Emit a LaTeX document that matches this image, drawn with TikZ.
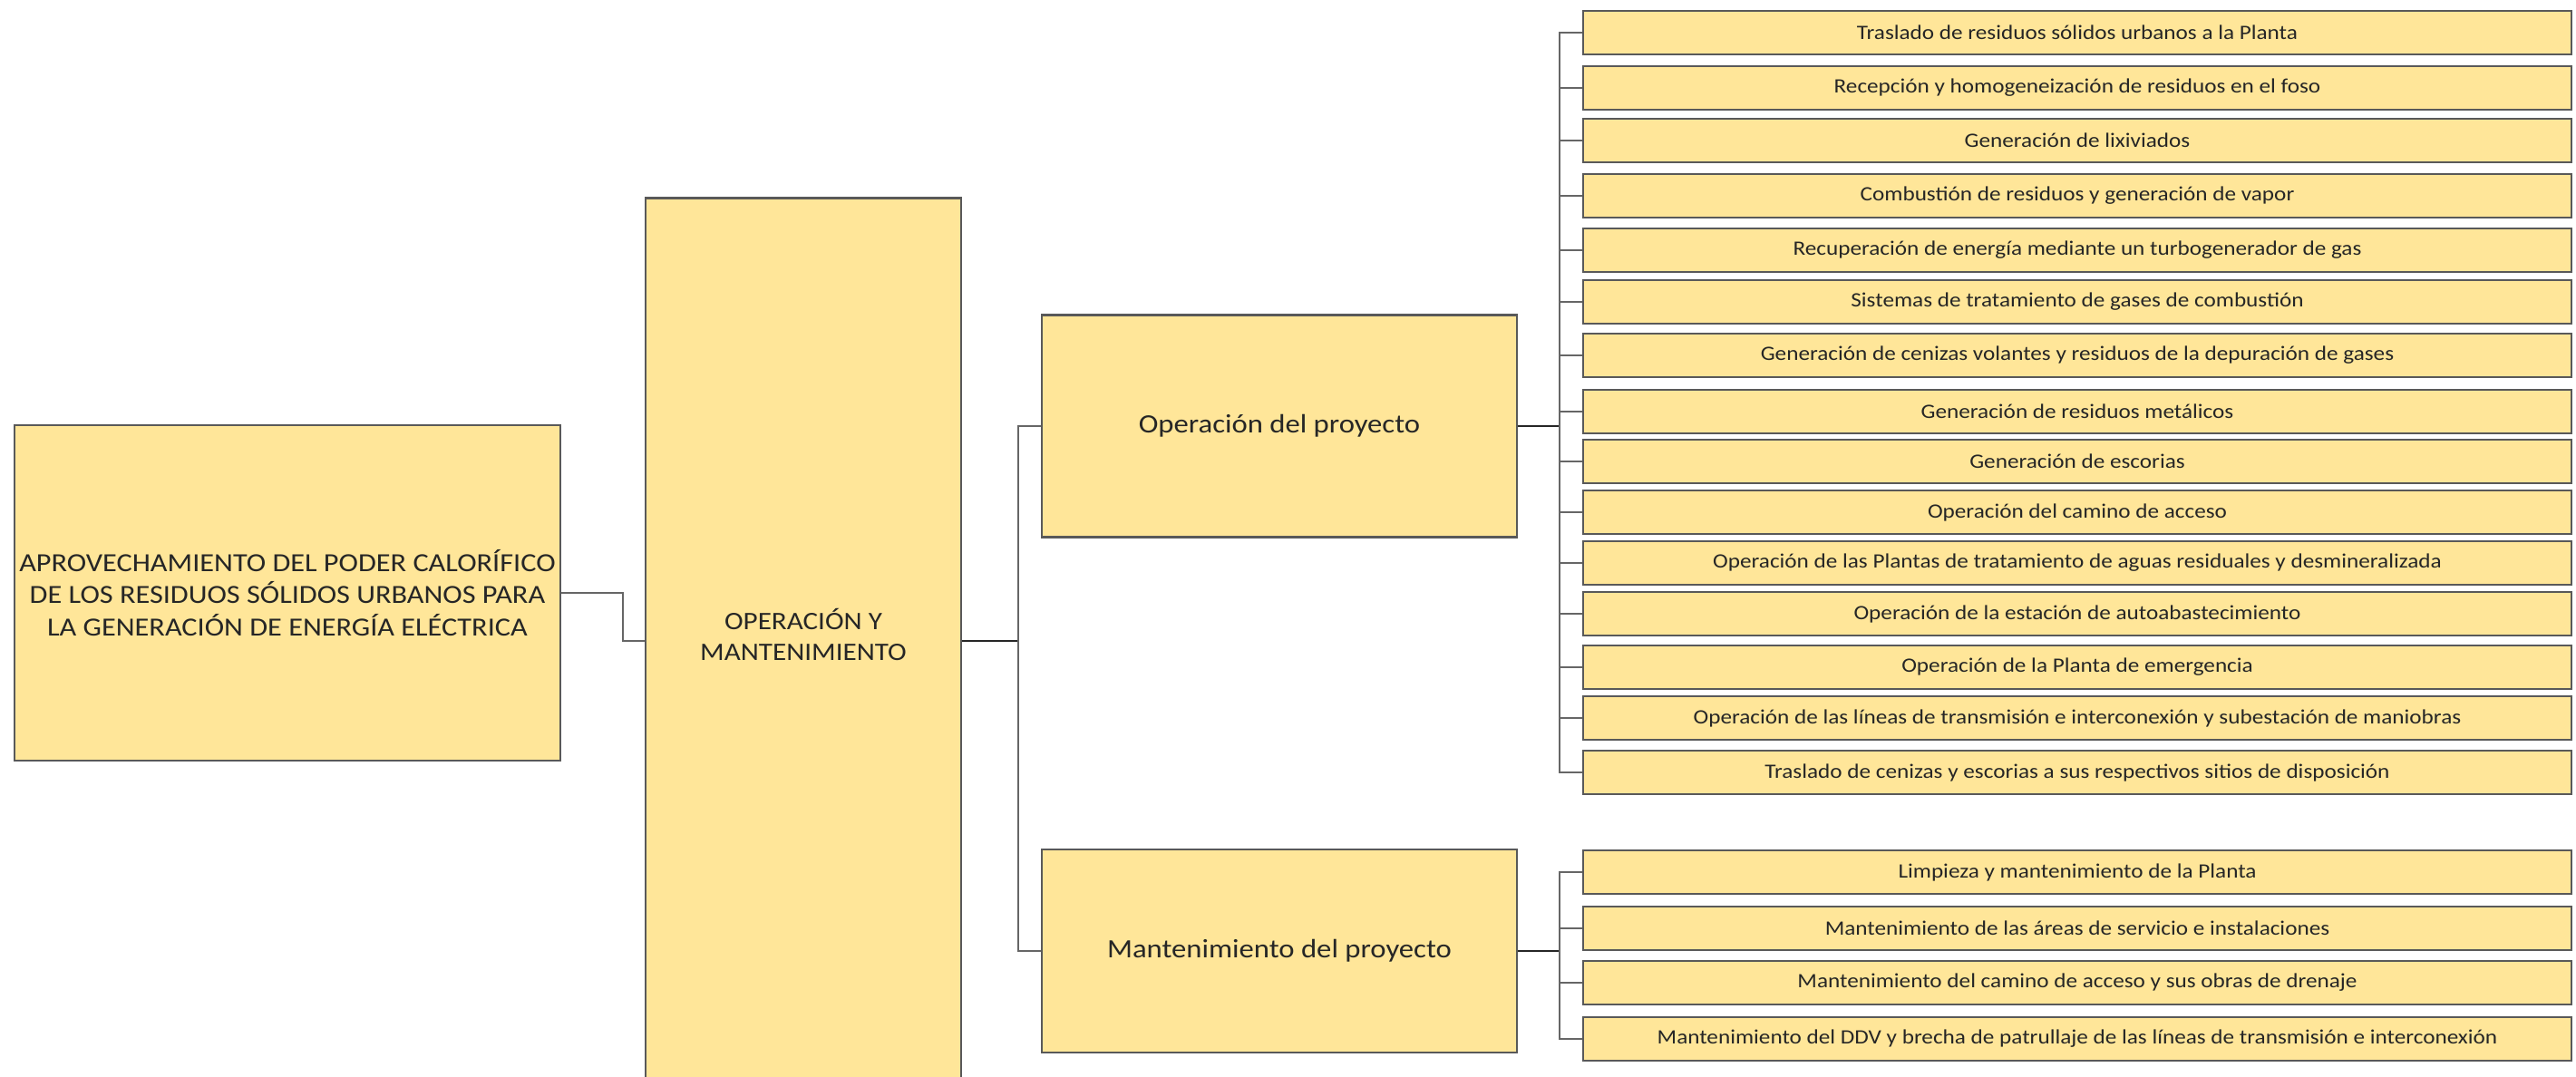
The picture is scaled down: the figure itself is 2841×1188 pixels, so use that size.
\documentclass[tikz,border=0pt]{standalone}
\usepackage{fontspec}
\setmainfont{Carlito}[FakeStretch=1.12]
\definecolor{boxfill}{HTML}{FFE699}
\definecolor{txt}{HTML}{262626}
\tikzset{
  box/.style={draw=black!65, line width=0.7pt, fill=boxfill, inner sep=0pt, align=center, text=txt},
  leaf/.style={box, minimum width=10.89cm, minimum height=0.48cm, font=\fontsize{6.4}{7.5}\selectfont},
  conn/.style={draw=black!60, line width=0.6pt},
  mainconn/.style={draw=black!85, line width=0.8pt},
}
\begin{document}
\begin{tikzpicture}[x=0.01cm,y=-0.01cm]
\useasboundingbox (0,0) rectangle (2841,1188);
\node[box, minimum width=6.02cm, minimum height=3.70cm, font=\fontsize{8.2}{10.2}\selectfont] (root) at (317,654)
  {APROVECHAMIENTO DEL PODER CALORÍFICO\\DE LOS RESIDUOS SÓLIDOS URBANOS PARA\\LA GENERACIÓN DE ENERGÍA ELÉCTRICA};
\node[box, minimum width=3.48cm, minimum height=9.76cm] (oym) at (886,707) {};
\node[align=center, text=txt, inner sep=0pt, font=\fontsize{7.9}{9.8}\selectfont] (oymtext) at (886,700)
  {OPERACIÓN Y\\MANTENIMIENTO};
\node[box, minimum width=5.24cm, minimum height=2.45cm, font=\fontsize{8.3}{10}\selectfont] (op) at (1411,470) {Operación del proyecto};
\node[box, minimum width=5.24cm, minimum height=2.24cm, font=\fontsize{8.3}{10}\selectfont] (mant) at (1411,1049) {Mantenimiento del proyecto};

\node[leaf] (o1) at (2291,36) {Traslado de residuos sólidos urbanos a la Planta};
\node[leaf] (o2) at (2291,97) {Recepción y homogeneización de residuos en el foso};
\node[leaf] (o3) at (2291,155) {Generación de lixiviados};
\node[leaf] (o4) at (2291,216) {Combustión de residuos y generación de vapor};
\node[leaf] (o5) at (2291,276) {Recuperación de energía mediante un turbogenerador de gas};
\node[leaf] (o6) at (2291,333) {Sistemas de tratamiento de gases de combustión};
\node[leaf] (o7) at (2291,392) {Generación de cenizas volantes y residuos de la depuración de gases};
\node[leaf] (o8) at (2291,454) {Generación de residuos metálicos};
\node[leaf] (o9) at (2291,509) {Generación de escorias};
\node[leaf] (o10) at (2291,565) {Operación del camino de acceso};
\node[leaf] (o11) at (2291,621) {Operación de las Plantas de tratamiento de aguas residuales y desmineralizada};
\node[leaf] (o12) at (2291,677) {Operación de la estación de autoabastecimiento};
\node[leaf] (o13) at (2291,736) {Operación de la Planta de emergencia};
\node[leaf] (o14) at (2291,792) {Operación de las líneas de transmisión e interconexión y subestación de maniobras};
\node[leaf] (o15) at (2291,852) {Traslado de cenizas y escorias a sus respectivos sitios de disposición};

\node[leaf] (m1) at (2291,962) {Limpieza y mantenimiento de la Planta};
\node[leaf] (m2) at (2291,1024) {Mantenimiento de las áreas de servicio e instalaciones};
\node[leaf] (m3) at (2291,1084) {Mantenimiento del camino de acceso y sus obras de drenaje};
\node[leaf] (m4) at (2291,1146) {Mantenimiento del DDV y brecha de patrullaje de las líneas de transmisión e interconexión};

\coordinate (b1) at (1123,707);
\coordinate (b2) at (1720,470);
\coordinate (b3) at (1720,1049);

\draw[conn] (root.east) -- ++(68,0) |- (oym.west);
\draw[mainconn] (oym.east) -- (b1);
\draw[conn] (op.west) -| (b1);
\draw[conn] (mant.west) -| (b1);

\draw[mainconn] (op.east) -- (b2);
\foreach \i in {1,...,15} {\draw[conn] (o\i.west) -| (b2);}
\draw[mainconn] (mant.east) -- (b3);
\foreach \i in {1,...,4} {\draw[conn] (m\i.west) -| (b3);}
\end{tikzpicture}
\end{document}
